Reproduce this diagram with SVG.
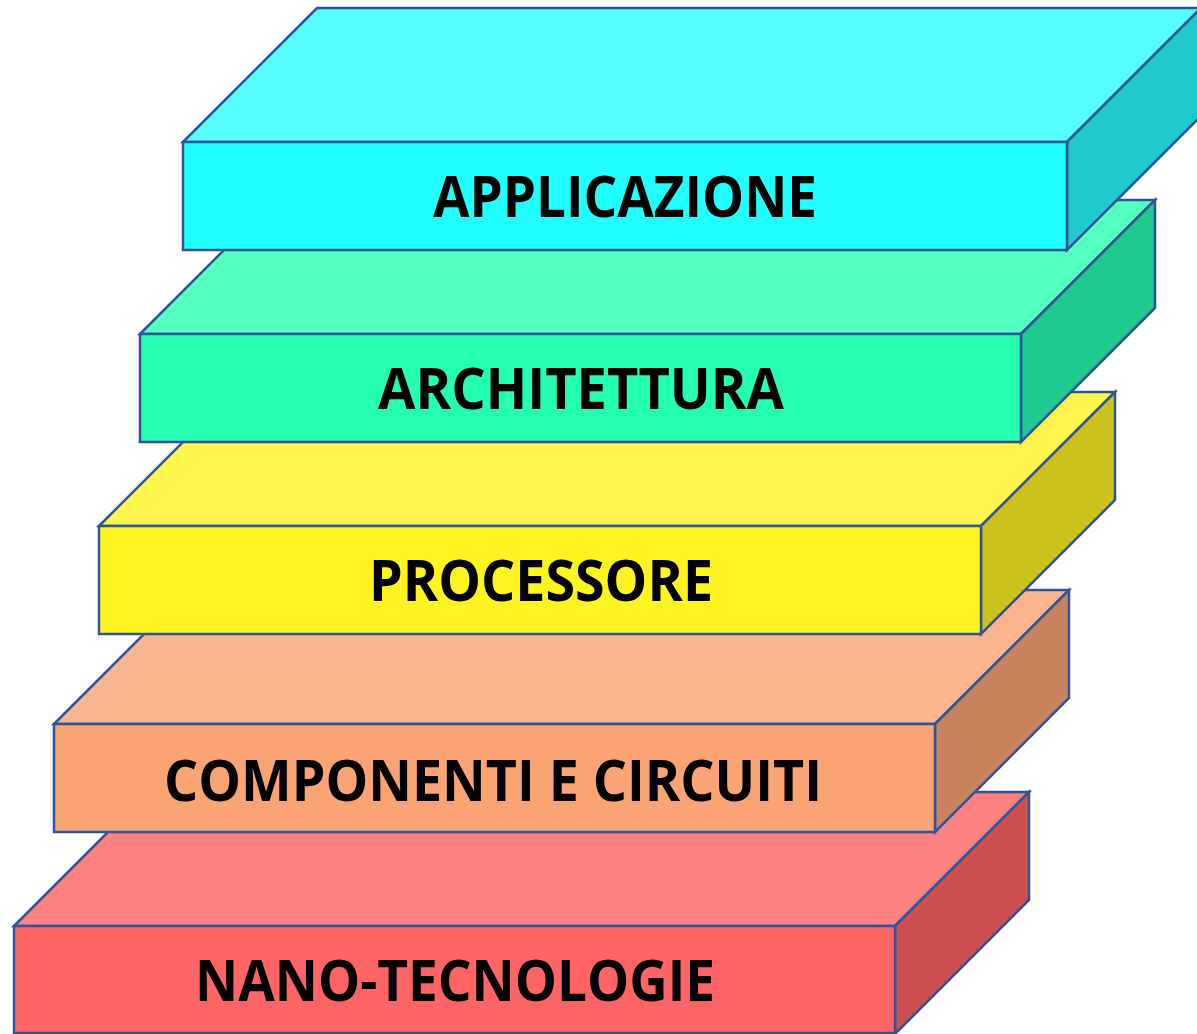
<svg xmlns="http://www.w3.org/2000/svg" width="1197" height="1034" viewBox="0 0 1197 1034">
<style>
.e{stroke:#2F5597;stroke-width:2.5;stroke-linejoin:miter}
.t{font-family:"Open Sans","Liberation Sans",sans-serif;font-weight:bold;font-size:57px;fill:#000}
</style>
<rect width="1197" height="1034" fill="#fff"/>
<g id="nano">
<polygon class="e" fill="#FF8282" points="14,926 148,792 1029,792 895,926"/>
<polygon class="e" fill="#CC5050" points="895,926 1029,792 1029,900 895,1034"/>
<rect class="e" fill="#FF6565" x="14" y="926" width="881" height="107"/>
<text class="t" x="195" y="1001" textLength="520" lengthAdjust="spacingAndGlyphs">NANO-TECNOLOGIE</text>
</g>
<g id="componenti">
<polygon class="e" fill="#FBB48D" points="54,724 188,590 1069,590 935,724"/>
<polygon class="e" fill="#C9835C" points="935,724 1069,590 1069,698 935,832"/>
<rect class="e" fill="#FAA473" x="54" y="724" width="881" height="108"/>
<text class="t" x="164" y="801" textLength="658" lengthAdjust="spacingAndGlyphs">COMPONENTI E CIRCUITI</text>
</g>
<g id="processore">
<polygon class="e" fill="#FFF44D" points="99,526 233,392 1115,392 981,526"/>
<polygon class="e" fill="#CCC21C" points="981,526 1115,392 1115,500 981,634"/>
<rect class="e" fill="#FFF422" x="99" y="526" width="882" height="108"/>
<text class="t" x="369" y="601" textLength="344" lengthAdjust="spacingAndGlyphs">PROCESSORE</text>
</g>
<g id="architettura">
<polygon class="e" fill="#55FFC0" points="140,334 274,200 1155,200 1021,334"/>
<polygon class="e" fill="#1FC98E" points="1021,334 1155,200 1155,308 1021,442"/>
<rect class="e" fill="#25FFB2" x="140" y="334" width="881" height="108"/>
<text class="t" x="378" y="409" textLength="406" lengthAdjust="spacingAndGlyphs">ARCHITETTURA</text>
</g>
<g id="applicazione">
<polygon class="e" fill="#55FFFF" points="183,142 317,8 1201,8 1067,142"/>
<polygon class="e" fill="#1FC9C9" points="1067,142 1201,8 1201,116 1067,250"/>
<rect class="e" fill="#22FFFF" x="183" y="142" width="884" height="108"/>
<text class="t" x="433" y="217" textLength="384" lengthAdjust="spacingAndGlyphs">APPLICAZIONE</text>
</g>
<g id="connectors"/>
</svg>
